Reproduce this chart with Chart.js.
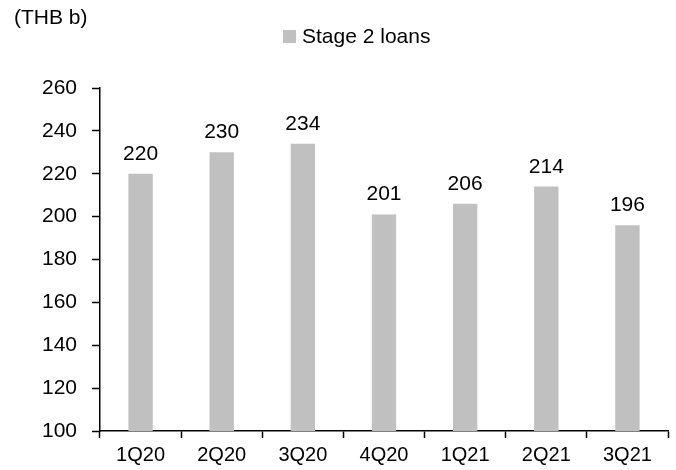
<!DOCTYPE html>
<html lang="en">
<head>
    <meta charset="UTF-8">
    <title>Stage 2 loans</title>
    <script src="https://cdn.jsdelivr.net/npm/chart.js"></script>
    <style>
        html, body { margin: 0; padding: 0; background: #fff; }
        .chart-container { width: 676px; height: 470px; }
    </style>
</head>
<body>
    <div class="chart-container">
        <canvas id="loansChart"></canvas>
    </div>

    <script>
        const quarters = ['1Q20', '2Q20', '3Q20', '4Q20', '1Q21', '2Q21', '3Q21'];
        const stage2Loans = [220, 230, 234, 201, 206, 214, 196];
        const yTicks = { min: 100, max: 260, step: 20 };

        const FONT = 'Arial, "Liberation Sans", sans-serif';

        // writes each bar's value just above it
        const valueLabels = {
            id: 'valueLabels',
            afterDatasetsDraw(chart) {
                const ctx = chart.ctx;
                ctx.save();
                ctx.font = '21px ' + FONT;
                ctx.fillStyle = '#000';
                ctx.textAlign = 'center';
                ctx.textBaseline = 'alphabetic';
                chart.getDatasetMeta(0).data.forEach((bar, i) => {
                    ctx.fillText(stage2Loans[i], bar.x, bar.y - 14);
                });
                ctx.restore();
            }
        };

        // unit caption top-left, legend swatch + label above the plot
        const headerText = {
            id: 'headerText',
            afterDraw(chart) {
                const ctx = chart.ctx;
                const ds = chart.data.datasets[0];
                ctx.save();
                ctx.font = '21px ' + FONT;
                ctx.fillStyle = '#000';
                ctx.textAlign = 'left';
                ctx.textBaseline = 'middle';
                ctx.fillText('(THB b)', 14, 18);

                ctx.fillStyle = ds.backgroundColor;
                ctx.fillRect(283, 30, 13, 13);
                ctx.fillStyle = '#000';
                ctx.fillText(ds.label, 302, 37);
                ctx.restore();
            }
        };

        const ctx = document.getElementById('loansChart').getContext('2d');
        new Chart(ctx, {
            type: 'bar',
            data: {
                labels: quarters,
                datasets: [{
                    label: 'Stage 2 loans',
                    data: stage2Loans,
                    backgroundColor: '#c0c0c0',
                    borderWidth: 0,
                    categoryPercentage: 1,
                    barPercentage: 0.30
                }]
            },
            options: {
                responsive: true,
                maintainAspectRatio: false,
                animation: false,
                layout: { padding: { top: 88, right: 8, left: 0, bottom: 0 } },
                scales: {
                    x: {
                        grid: {
                            offset: true,
                            drawOnChartArea: false,
                            tickLength: 7,
                            tickColor: '#000',
                            tickWidth: 1.5
                        },
                        border: { color: '#000', width: 1.5 },
                        ticks: {
                            color: '#000',
                            font: { family: FONT, size: 20 },
                            padding: 5
                        },
                        afterFit(scale) { scale.height = 39; }
                    },
                    y: {
                        min: yTicks.min,
                        max: yTicks.max,
                        grid: {
                            drawOnChartArea: false,
                            tickLength: 8,
                            tickColor: '#000',
                            tickWidth: 1.5
                        },
                        border: { color: '#000', width: 1.5 },
                        ticks: {
                            stepSize: yTicks.step,
                            color: '#000',
                            font: { family: FONT, size: 21 },
                            padding: 15
                        },
                        afterFit(scale) { scale.width = 100; }
                    }
                },
                plugins: {
                    legend: { display: false },
                    title: { display: false },
                    tooltip: { enabled: false }
                }
            },
            plugins: [valueLabels, headerText]
        });
    </script>
</body>
</html>
